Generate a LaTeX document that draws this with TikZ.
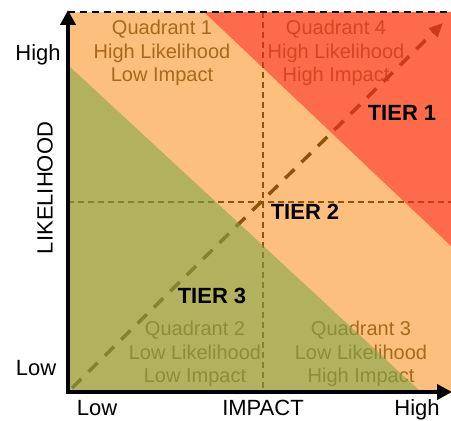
\documentclass[tikz,border=0pt]{standalone}
\usepackage{fontspec}
\setmainfont{Liberation Sans}
\usetikzlibrary{arrows.meta,positioning}
\definecolor{peach}{RGB}{253,191,125}
\definecolor{tomato}{RGB}{255,39,33}
\definecolor{moss}{RGB}{124,169,72}
\definecolor{umber}{RGB}{168,104,30}
\definecolor{bark}{RGB}{140,84,14}

\begin{document}
\begin{tikzpicture}[x=1pt,y=1pt,% one unit per pixel, origin lower left
		every node/.style={
			align=center,	% use this so that the "\\" for line break works
			inner sep=0pt
		},
		quad/.style={text=umber,font=\fontsize{20}{23.5}\selectfont},
		tier/.style={font=\fontsize{22}{26}\selectfont\bfseries},
		axislabel/.style={font=\fontsize{22}{26}\selectfont,anchor=base},
		guide/.style={bark,line width=1.2pt,dash pattern=on 6pt off 4pt},
		axis/.style={line width=4pt,-{Triangle[length=15pt,width=15pt]}}
	]
	\useasboundingbox (0,0) rectangle (451,421);
	% corners of the grid
	\coordinate (O) at (68,29);
	\coordinate (TL) at (68,409);
	\coordinate (TR) at (451,409);
	\coordinate (BR) at (451,29);
	\coordinate (MT) at (263,409);	% middle of top / bottom
	\coordinate (MB) at (263,29);
	\coordinate (ML) at (68,219);	% middle of left / right
	\coordinate (MR) at (451,219);

	\fill[peach] (O) rectangle (TR);

	% quadrant text, goes under the tinted triangles
	\node[quad](Q1) at (162,368){Quadrant 1\\ High Likelihood\\ Low Impact};
	\node[quad](Q4) at (336,368){Quadrant 4\\ High Likelihood\\ High Impact};
	\node[quad](Q2) at (195,67){Quadrant 2\\ Low Likelihood\\ Low Impact};
	\node[quad](Q3) at (361,67){Quadrant 3\\ Low Likelihood\\ High Impact};

	\draw[guide] (MT) -- (MB);
	\draw[guide] (ML) -- (MR);
	\coordinate (D0) at (72,33);
	\coordinate (D1) at (443,398);
	\draw[bark,line width=3.5pt,dash pattern=on 13pt off 10pt,-{Triangle[length=14pt,width=12pt]}] (D0) -- (D1);

	% tinted triangles
	\fill[tomato,opacity=0.55] (204,409) -- (TR) -- (451,175) -- cycle;
	\fill[moss,opacity=0.58] (68,356) -- (O) -- (421,29) -- cycle;

	\node[tier](T1) at (402,308){TIER 1};
	\node[tier](T2) at (305,209){TIER 2};
	\node[tier](T3) at (212,125){TIER 3};

	% axes
	\draw[line width=2.5pt,dash pattern=on 7pt off 5pt] (TL) -- (TR);
	\draw[axis] (68,27) -- (68,411);
	\draw[axis] (66,29) -- (452,29);

	\node[axislabel](LH) at (38,360){High};
	\node[axislabel](LL) at (36,45){Low};
	\node[axislabel,anchor=center,rotate=90](LY) at (45,233){LIKELIHOOD};
	\node[axislabel](XL) at (97,5){Low};
	\node[axislabel](XM) at (263,5){IMPACT};
	\node[axislabel](XH) at (417,5){High};
\end{tikzpicture}
\end{document}
